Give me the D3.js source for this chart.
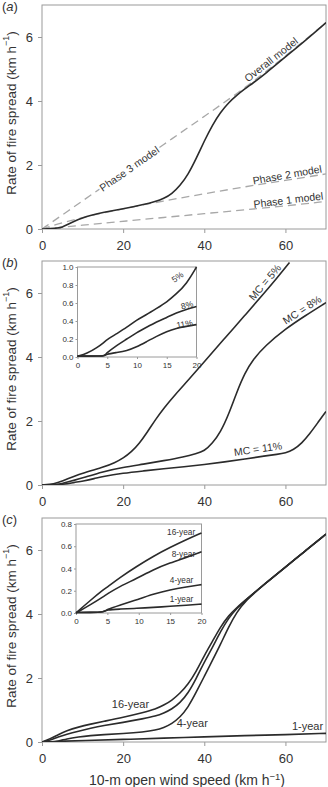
<!DOCTYPE html>
<html>
<head>
<meta charset="utf-8">
<script src="https://cdn.jsdelivr.net/npm/d3@7"></script>
<style>
body { margin: 0; background: #fff; }
svg { display: block; font-family: "Liberation Sans", Arial, sans-serif; }
</style>
</head>
<body>
<div id="chart"></div>
<script>
// ---- data ----
// (a) overall model and the three phase models
const windA = [0, 2, 4, 5, 6, 8, 10, 12, 15, 20, 25, 28, 30, 32, 34, 36, 38, 40, 42, 44, 46, 48, 50, 52, 55, 60, 65, 70];
const overallRos = [0, 0.01, 0.03, 0.06, 0.12, 0.25, 0.35, 0.43, 0.52, 0.63, 0.76, 0.86, 0.95, 1.1, 1.35, 1.7, 2.2, 2.75, 3.25, 3.65, 3.95, 4.18, 4.38, 4.56, 4.85, 5.38, 5.9, 6.45];
const windPhase = [0, 5, 10, 15, 20, 30, 40, 50, 60, 70];
const phase1Ros = [0, 0.06, 0.12, 0.18, 0.24, 0.36, 0.48, 0.6, 0.72, 0.86];
const phase2Ros = [0, 0.2, 0.36, 0.5, 0.63, 0.88, 1.1, 1.32, 1.52, 1.72];
const phase3Ros = [0, 0.44, 0.88, 1.32, 1.76, 2.64, 3.52, 4.4, 5.4, 6.45];

// (b) moisture content
const windMc5 = [0, 3, 5, 8, 10, 15, 18, 20, 22, 24, 26, 28, 30, 33, 36, 40, 45, 50, 55, 58, 61];
const rosMc5 = [0, 0.03, 0.12, 0.28, 0.37, 0.55, 0.7, 0.84, 1.03, 1.3, 1.66, 2.05, 2.4, 2.85, 3.27, 3.85, 4.58, 5.3, 6.03, 6.48, 6.95];
const windMc8 = [0, 4, 5, 8, 10, 15, 20, 25, 30, 35, 38, 40, 42, 44, 46, 48, 50, 52, 55, 60, 65, 70];
const rosMc8 = [0, 0.01, 0.05, 0.15, 0.22, 0.42, 0.55, 0.65, 0.76, 0.88, 0.98, 1.06, 1.3, 1.65, 2.2, 2.9, 3.5, 3.92, 4.35, 4.88, 5.3, 5.7];
const windMc11 = [0, 5, 8, 10, 13, 15, 20, 25, 30, 35, 40, 45, 50, 55, 58, 60, 62, 64, 66, 68, 70];
const rosMc11 = [0, 0.01, 0.08, 0.12, 0.2, 0.27, 0.37, 0.44, 0.51, 0.57, 0.64, 0.72, 0.81, 0.91, 0.96, 1.0, 1.1, 1.3, 1.6, 1.95, 2.3];
const windInsetB = [0, 1.6, 3.2, 4.6, 4.8, 6.6, 8.3, 9.9, 11.6, 13.3, 15, 16.6, 18.3, 20];
const insetMc5 = [0.007, 0.04, 0.1, 0.17, 0.185, 0.26, 0.33, 0.41, 0.47, 0.54, 0.61, 0.7, 0.81, 1.0];
const insetMc8 = [0.01, 0.01, 0.01, 0.012, 0.04, 0.13, 0.2, 0.27, 0.33, 0.39, 0.44, 0.49, 0.53, 0.56];
const insetMc11 = [0.01, 0.01, 0.01, 0.012, 0.03, 0.05, 0.07, 0.11, 0.17, 0.23, 0.285, 0.32, 0.34, 0.36];

// (c) fuel age
const windC = [0, 2, 4, 6, 9, 12, 15, 20, 25, 28, 30, 32, 34, 36, 38, 40, 42, 44, 46, 48, 50, 55, 60, 65, 70];
const ros16yr = [0, 0.1, 0.23, 0.35, 0.47, 0.56, 0.64, 0.77, 0.92, 1.03, 1.15, 1.3, 1.52, 1.8, 2.2, 2.7, 3.14, 3.6, 3.95, 4.2, 4.42, 4.95, 5.47, 5.98, 6.5];
const ros8yr = [0, 0.05, 0.16, 0.24, 0.34, 0.43, 0.51, 0.61, 0.73, 0.81, 0.9, 1.03, 1.22, 1.52, 1.98, 2.5, 2.95, 3.45, 3.88, 4.17, 4.42, 4.95, 5.47, 5.98, 6.5];
const ros4yr = [0, 0.01, 0.02, 0.1, 0.16, 0.2, 0.23, 0.26, 0.31, 0.37, 0.45, 0.57, 0.77, 1.08, 1.55, 2.05, 2.55, 3.05, 3.6, 4.05, 4.4, 4.95, 5.47, 5.98, 6.5];
const wind1yr = [0, 4.6, 4.8, 10, 20, 30, 40, 50, 60, 70];
const ros1yr = [0, 0.01, 0.025, 0.045, 0.08, 0.12, 0.16, 0.2, 0.23, 0.27];
const windInsetC = [0, 2.2, 4.6, 4.8, 7, 9.7, 12.3, 15, 17.6, 20];
const inset16yr = [0, 0.11, 0.22, 0.225, 0.32, 0.42, 0.51, 0.59, 0.66, 0.72];
const inset8yr = [0, 0.07, 0.155, 0.165, 0.24, 0.31, 0.39, 0.45, 0.5, 0.55];
const inset4yr = [0.005, 0.005, 0.008, 0.03, 0.07, 0.12, 0.17, 0.21, 0.235, 0.255];
const inset1yr = [0.005, 0.005, 0.008, 0.03, 0.035, 0.042, 0.05, 0.06, 0.07, 0.08];

const mainTicksX = [0, 20, 40, 60];
const mainTicksY = [0, 2, 4, 6];
const insetTicksX = [0, 5, 10, 15, 20];
const insetTicksYB = [0, 0.2, 0.4, 0.6, 0.8, 1.0];
const insetTicksYC = [0, 0.2, 0.4, 0.6, 0.8];

// ---- layout ----
const W = 328, H = 787;
const frameCol = "#9a9a9a", lineCol = "#2b2b2b", dashCol = "#a8a8a8", textCol = "#333";

const svg = d3.select("#chart")
  .append("svg")
  .attr("width", W)
  .attr("height", H);

svg.append("rect").attr("width", W).attr("height", H).attr("fill", "#fff");

const x = d3.scaleLinear().domain([0, 70]).range([42, 326]);

function styleAxis(g, size) {
  g.select(".domain").remove();
  g.selectAll("line").attr("stroke", frameCol);
  g.selectAll("text").attr("fill", textCol);
  g.attr("font-size", size).attr("font-family", null);
}

// main panel: frame, axes, y title, panel letter
function mainPanel(id, letter, y0, y7) {
  const y = d3.scaleLinear().domain([0, 7]).range([y0, y7]);
  const g = svg.append("g");

  g.append("clipPath").attr("id", "clip" + id)
    .append("rect")
    .attr("x", x(0)).attr("y", y(7))
    .attr("width", x(70) - x(0)).attr("height", y(0) - y(7));

  g.append("g")
    .attr("transform", `translate(0,${y(0)})`)
    .call(d3.axisBottom(x).tickValues(mainTicksX).tickSize(4).tickPadding(8).tickFormat(d3.format("d")))
    .call(a => styleAxis(a, 13));

  g.append("g")
    .attr("transform", `translate(${x(0)},0)`)
    .call(d3.axisLeft(y).tickValues(mainTicksY).tickSize(4).tickPadding(5).tickFormat(d3.format("d")))
    .call(a => styleAxis(a, 13));

  g.append("rect")
    .attr("x", x(0)).attr("y", y(7))
    .attr("width", x(70) - x(0)).attr("height", y(0) - y(7))
    .attr("fill", "none")
    .attr("stroke", frameCol);

  const t = g.append("text")
    .attr("transform", `translate(11,${(y(0) + y(7)) / 2 - 4}) rotate(-90)`)
    .attr("text-anchor", "middle")
    .attr("dominant-baseline", "central")
    .attr("font-size", 13.5)
    .attr("fill", textCol)
    .text("Rate of fire spread (km h");
  t.append("tspan").attr("baseline-shift", "super").attr("font-size", 9).text("\u22121");
  t.append("tspan").text(")");

  const p = g.append("text")
    .attr("x", 2).attr("y", y7 + 6)
    .attr("font-size", 13)
    .attr("fill", textCol)
    .text("(");
  p.append("tspan").attr("font-style", "italic").text(letter);
  p.append("tspan").text(")");

  const plot = g.append("g").attr("clip-path", `url(#clip${id})`);
  return { g, plot, y };
}

// inset: white box with its own small axes
function inset(parent, xr, yr, yMax, yTicks) {
  const xs = d3.scaleLinear().domain([0, 20]).range(xr);
  const ys = d3.scaleLinear().domain([0, yMax]).range(yr);
  const g = parent.append("g");
  g.append("rect")
    .attr("x", xr[0]).attr("y", yr[1])
    .attr("width", xr[1] - xr[0]).attr("height", yr[0] - yr[1])
    .attr("fill", "#fff")
    .attr("stroke", frameCol);
  g.append("g")
    .attr("transform", `translate(0,${yr[0]})`)
    .call(d3.axisBottom(xs).tickValues(insetTicksX).tickSize(2).tickPadding(3))
    .call(a => styleAxis(a, 8));
  g.append("g")
    .attr("transform", `translate(${xr[0]},0)`)
    .call(d3.axisLeft(ys).tickValues(yTicks).tickSize(2).tickPadding(2).tickFormat(d3.format(".1f")))
    .call(a => styleAxis(a, 8));
  return { g, xs, ys };
}

function drawLine(g, xs, ys, winds, ros, dashed) {
  const line = d3.line()
    .x(d => xs(d[0]))
    .y(d => ys(d[1]))
    .curve(d3.curveBasis);
  g.append("path")
    .datum(d3.zip(winds, ros))
    .attr("fill", "none")
    .attr("stroke", dashed ? dashCol : lineCol)
    .attr("stroke-width", dashed ? 1.3 : 1.6)
    .attr("stroke-dasharray", dashed ? "8,5" : null)
    .attr("d", line);
}

function label(g, px, py, txt, angle, size, opts = {}) {
  const t = g.append("text")
    .attr("transform", `translate(${px},${py}) rotate(${angle})`)
    .attr("dy", opts.dy || 0)
    .attr("text-anchor", opts.anchor || "middle")
    .attr("dominant-baseline", opts.central ? "central" : null)
    .attr("font-size", size)
    .attr("fill", textCol)
    .text(txt);
  if (opts.halo) {
    t.attr("stroke", "#fff").attr("stroke-width", 4).attr("paint-order", "stroke");
  }
  return t;
}

/*******************************************************
* (a) Overall model vs phase models
*******************************************************/
const pa = mainPanel("a", "a", 229, 5);
drawLine(pa.plot, x, pa.y, windPhase, phase1Ros, true);
drawLine(pa.plot, x, pa.y, windPhase, phase2Ros, true);
drawLine(pa.plot, x, pa.y, windPhase, phase3Ros, true);
label(pa.g, x(21.5), pa.y(1.89), "Phase 3 model", -35, 10.5, { central: true, halo: true });
label(pa.g, x(60.7), pa.y(1.52), "Phase 2 model", -10, 10.5, { dy: -2 });
label(pa.g, x(60.9), pa.y(0.73), "Phase 1 model", -7, 10.5, { dy: -2 });
drawLine(pa.plot, x, pa.y, windA, overallRos, false);
label(pa.g, x(57.5), pa.y(5.13), "Overall model", -38, 10.5, { dy: -3 });

/*******************************************************
* (b) Moisture content
*******************************************************/
const pb = mainPanel("b", "b", 485, 261);
drawLine(pb.plot, x, pb.y, windMc5, rosMc5, false);
drawLine(pb.plot, x, pb.y, windMc8, rosMc8, false);
drawLine(pb.plot, x, pb.y, windMc11, rosMc11, false);
label(pb.g, x(56.2), pb.y(6.2), "MC = 5%", -50, 10.5, { dy: -3 });
label(pb.g, x(65), pb.y(5.3), "MC = 8%", -33, 10.5, { dy: -3 });
label(pb.g, x(53.5), pb.y(0.89), "MC = 11%", -8, 10.5, { dy: -4 });

const ib = inset(pb.g, [77.5, 196.5], [357, 267], 1.0, insetTicksYB);
drawLine(ib.g, ib.xs, ib.ys, windInsetB, insetMc5, false);
drawLine(ib.g, ib.xs, ib.ys, windInsetB, insetMc8, false);
drawLine(ib.g, ib.xs, ib.ys, windInsetB, insetMc11, false);
label(ib.g, ib.xs(16.8), ib.ys(0.89), "5%", -35, 8.5, { central: true });
label(ib.g, ib.xs(18.4), ib.ys(0.578), "8%", -15, 8.5, { central: true });
label(ib.g, ib.xs(18.0), ib.ys(0.367), "11%", -10, 8.5, { central: true });

/*******************************************************
* (c) Fuel age
*******************************************************/
const pc = mainPanel("c", "c", 742, 518);
drawLine(pc.plot, x, pc.y, wind1yr, ros1yr, false);
drawLine(pc.plot, x, pc.y, windC, ros4yr, false);
drawLine(pc.plot, x, pc.y, windC, ros8yr, false);
drawLine(pc.plot, x, pc.y, windC, ros16yr, false);
label(pc.g, x(17.2), pc.y(1.06), "16-year", 0, 11, { anchor: "start" });
label(pc.g, x(33.2), pc.y(0.47), "4-year", 0, 11, { anchor: "start" });
label(pc.g, x(69.3), pc.y(0.375), "1-year", 0, 11, { anchor: "end" });

const ic = inset(pc.g, [76, 201.5], [613, 524], 0.8, insetTicksYC);
label(ic.g, ic.xs(19), ic.ys(0.70), "16-year", 0, 8.3, { anchor: "end" });
label(ic.g, ic.xs(19), ic.ys(0.503), "8-year", 0, 8.3, { anchor: "end" });
label(ic.g, ic.xs(18.7), ic.ys(0.27), "4-year", 0, 8.3, { anchor: "end" });
label(ic.g, ic.xs(18.7), ic.ys(0.099), "1-year", 0, 8.3, { anchor: "end" });
drawLine(ic.g, ic.xs, ic.ys, windInsetC, inset16yr, false);
drawLine(ic.g, ic.xs, ic.ys, windInsetC, inset8yr, false);
drawLine(ic.g, ic.xs, ic.ys, windInsetC, inset4yr, false);
drawLine(ic.g, ic.xs, ic.ys, windInsetC, inset1yr, false);

// shared x title
const xt = svg.append("text")
  .attr("x", 187).attr("y", 785)
  .attr("text-anchor", "middle")
  .attr("font-size", 14)
  .attr("fill", textCol)
  .text("10-m open wind speed (km h");
xt.append("tspan").attr("baseline-shift", "super").attr("font-size", 9.5).text("\u22121");
xt.append("tspan").text(")");
</script>
</body>
</html>
